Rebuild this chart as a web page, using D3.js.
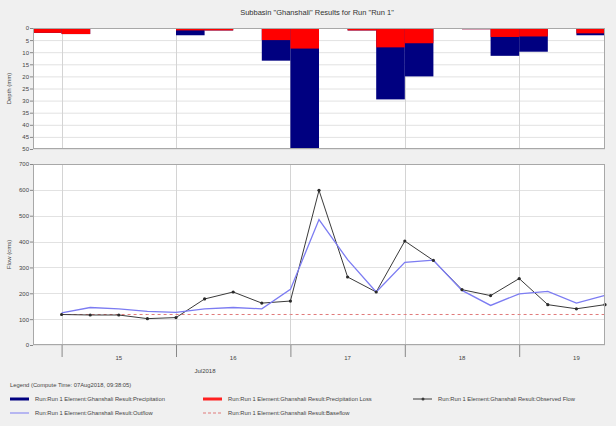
<!DOCTYPE html>
<html><head><meta charset="utf-8">
<script src="https://cdn.jsdelivr.net/npm/d3@7"></script>
<style>
html,body{margin:0;padding:0;background:#f0f0f0;}
svg{display:block;font-family:"Liberation Sans",Arial,sans-serif;}
</style></head>
<body>
<svg id="c" width="616" height="426"></svg>
<script>
// ---- data ----
const times = ["2018-07-15 00:00","2018-07-15 06:00","2018-07-15 12:00","2018-07-15 18:00",
  "2018-07-16 00:00","2018-07-16 06:00","2018-07-16 12:00","2018-07-16 18:00",
  "2018-07-17 00:00","2018-07-17 06:00","2018-07-17 12:00","2018-07-17 18:00",
  "2018-07-18 00:00","2018-07-18 06:00","2018-07-18 12:00","2018-07-18 18:00",
  "2018-07-19 00:00","2018-07-19 06:00","2018-07-19 12:00","2018-07-19 18:00"];
// precipitation per 6-hour interval ending at each time (mm)
const precipitation = [2, 2.5, 0, 0, 0, 3, 1, 0, 13.5, 50, 0, 1, 29.5, 20, 0, 0.5, 11.5, 9.8, 0, 3];
const precipLoss    = [2, 2.5, 0, 0, 0, 1, 1, 0, 5, 8.5, 0, 1, 8, 6.3, 0, 0.5, 3.7, 3.5, 0, 2.2];
// flows (cms)
const observedFlow = [118, 116, 116, 102, 106, 178, 205, 162, 170, 598, 263, 205, 402, 327, 214, 191, 257, 156, 140, 156];
const outflow      = [124, 145, 140, 130, 126, 140, 145, 140, 215, 485, 330, 205, 320, 328, 211, 153, 198, 207, 162, 192];
const baseflow     = [118, 118, 118, 118, 118, 118, 118, 118, 118, 118, 118, 118, 118, 118, 118, 118, 118, 118, 118, 118];
const depthTicks = [0,5,10,15,20,25,30,35,40,45,50];
const flowTicks = [0,100,200,300,400,500,600,700];
const dayTicks = ["2018-07-15","2018-07-16","2018-07-17","2018-07-18","2018-07-19"];
const dayLabels = ["15","16","17","18","19"];
const legendItems = [
  "Run:Run 1 Element:Ghanshali Result:Precipitation",
  "Run:Run 1 Element:Ghanshali Result:Precipitation Loss",
  "Run:Run 1 Element:Ghanshali Result:Observed Flow",
  "Run:Run 1 Element:Ghanshali Result:Outflow",
  "Run:Run 1 Element:Ghanshali Result:Baseflow"];
const title = 'Subbasin "Ghanshali" Results for Run "Run 1"';

// ---- drawing ----
const parseT = d3.timeParse("%Y-%m-%d %H:%M");
const parseD = d3.timeParse("%Y-%m-%d");
const T = times.map(parseT);
const svg = d3.select("#c");
const L = 33, R = 605;
const topY0 = 28, topY1 = 149, botY0 = 164, botY1 = 345;
const x = d3.scaleTime().domain([parseT("2018-07-14 18:00"), parseT("2018-07-19 18:00")]).range([L, R]);
const yD = d3.scaleLinear().domain([0, 50]).range([topY0, topY1]);
const yF = d3.scaleLinear().domain([0, 700]).range([botY1, botY0]);
const sixH = 6*3600*1000;

svg.append("text").attr("x", 317).attr("y", 15).attr("text-anchor","middle")
  .attr("font-size", 7.5).attr("fill","#333").text(title);

// panel backgrounds
svg.append("rect").attr("x",L).attr("y",topY0).attr("width",R-L).attr("height",topY1-topY0).attr("fill","#fff");
svg.append("rect").attr("x",L).attr("y",botY0).attr("width",R-L).attr("height",botY1-botY0).attr("fill","#fff");

// grids
const gT = svg.append("g");
gT.selectAll("line.h").data(depthTicks).join("line")
  .attr("x1",L).attr("x2",R).attr("y1",d=>yD(d)+0.5).attr("y2",d=>yD(d)+0.5).attr("stroke","#e2e2e2");
gT.selectAll("line.v").data(dayTicks).join("line")
  .attr("x1",d=>Math.round(x(parseD(d)))+0.5).attr("x2",d=>Math.round(x(parseD(d)))+0.5)
  .attr("y1",topY0).attr("y2",topY1).attr("stroke","#d4d4d4");
const gB = svg.append("g");
gB.selectAll("line.h").data(flowTicks).join("line")
  .attr("x1",L).attr("x2",R).attr("y1",d=>Math.round(yF(d))+0.5).attr("y2",d=>Math.round(yF(d))+0.5).attr("stroke","#e2e2e2");
gB.selectAll("line.v").data(dayTicks).join("line")
  .attr("x1",d=>Math.round(x(parseD(d)))+0.5).attr("x2",d=>Math.round(x(parseD(d)))+0.5)
  .attr("y1",botY0).attr("y2",botY1).attr("stroke","#d4d4d4");

// bars
const bars = svg.append("g");
bars.selectAll("rect.p").data(precipitation).join("rect")
  .attr("x",(d,i)=>x(new Date(T[i]-sixH))).attr("width",(d,i)=>x(T[i])-x(new Date(T[i]-sixH)))
  .attr("y",yD(0)).attr("height",d=>yD(d)-yD(0)).attr("fill","#000080");
bars.selectAll("rect.l").data(precipLoss).join("rect")
  .attr("x",(d,i)=>x(new Date(T[i]-sixH))).attr("width",(d,i)=>x(T[i])-x(new Date(T[i]-sixH)))
  .attr("y",yD(0)).attr("height",d=>yD(d)-yD(0)).attr("fill","#ff0000");
bars.append("line").attr("x1",L).attr("x2",R).attr("y1",yD(0)+0.5).attr("y2",yD(0)+0.5).attr("stroke","#ff3030");

// lines
const line = vals => d3.line().x((d,i)=>x(T[i])).y(d=>yF(d))(vals);
svg.append("path").attr("d",line(baseflow)).attr("fill","none").attr("stroke","#e07a7a").attr("stroke-width",1).attr("stroke-dasharray","3,3");
svg.append("path").attr("d",line(observedFlow)).attr("fill","none").attr("stroke","#3a3a3a").attr("stroke-width",1);
svg.append("path").attr("d",line(outflow)).attr("fill","none").attr("stroke","#7c7cf2").attr("stroke-width",1.3);
svg.selectAll("circle.o").data(observedFlow).join("circle")
  .attr("cx",(d,i)=>x(T[i])).attr("cy",d=>yF(d)).attr("r",1.6).attr("fill","#2a2a2a");

// frames
[[topY0,topY1],[botY0,botY1]].forEach(([a,b])=>{
  svg.append("rect").attr("x",L+0.5).attr("y",a+0.5).attr("width",R-L-1).attr("height",b-a-1)
    .attr("fill","none").attr("stroke","#a8a8a8");
});

// axes
const axD = svg.append("g").attr("transform",`translate(${L},0)`)
  .call(d3.axisLeft(yD).tickValues(depthTicks).tickSize(3).tickPadding(1));
const axF = svg.append("g").attr("transform",`translate(${L},0)`)
  .call(d3.axisLeft(yF).tickValues(flowTicks).tickSize(3).tickPadding(1));
const axX = svg.append("g").attr("transform",`translate(0,${botY1})`)
  .call(d3.axisBottom(x).tickValues(dayTicks.map(parseD)).tickSize(12).tickFormat(""));
[axD,axF,axX].forEach(g=>{
  g.select(".domain").remove();
  g.selectAll("line").attr("stroke","#888");
  g.selectAll("text").attr("font-size",6).attr("fill","#444").attr("font-family","Liberation Sans, Arial, sans-serif");
});
svg.selectAll("text.day").data(dayLabels).join("text")
  .attr("x",(d,i)=>x(new Date(+parseD(dayTicks[i]) + 12*3600*1000)))
  .attr("y",360).attr("text-anchor","middle").attr("font-size",6).attr("fill","#444").text(d=>d);
svg.append("text").attr("x",205).attr("y",373).attr("text-anchor","middle").attr("font-size",6).attr("fill","#444").text("Jul2018");

svg.append("text").attr("transform",`translate(11,${(topY0+topY1)/2}) rotate(-90)`).attr("text-anchor","middle")
  .attr("font-size",6).attr("fill","#444").text("Depth (mm)");
svg.append("text").attr("transform",`translate(11,${(botY0+botY1)/2}) rotate(-90)`).attr("text-anchor","middle")
  .attr("font-size",6).attr("fill","#444").text("Flow (cms)");

// legend
svg.append("text").attr("x",10).attr("y",387).attr("font-size",5.8).attr("fill","#444")
  .text("Legend (Compute Time: 07Aug2018, 09:38:05)");
const lg = [
  {x:10, y:399, t:legendItems[0], kind:"thick", c:"#000080"},
  {x:203, y:399, t:legendItems[1], kind:"thick", c:"#ff2020"},
  {x:413, y:399, t:legendItems[2], kind:"dot", c:"#3a3a3a"},
  {x:10, y:413, t:legendItems[3], kind:"thin", c:"#7c7cf2"},
  {x:203, y:413, t:legendItems[4], kind:"dash", c:"#e07a7a"}];
lg.forEach(o=>{
  const ln = svg.append("line").attr("x1",o.x).attr("x2",o.x+19).attr("y1",o.y).attr("y2",o.y).attr("stroke",o.c);
  if(o.kind==="thick") ln.attr("stroke-width",3);
  if(o.kind==="dash") ln.attr("stroke-dasharray","3,2");
  if(o.kind==="dot") svg.append("circle").attr("cx",o.x+10).attr("cy",o.y).attr("r",1.5).attr("fill",o.c);
  svg.append("text").attr("x",o.x+25).attr("y",o.y+2).attr("font-size",5.8).attr("fill","#444").text(o.t);
});
</script>
</body></html>
